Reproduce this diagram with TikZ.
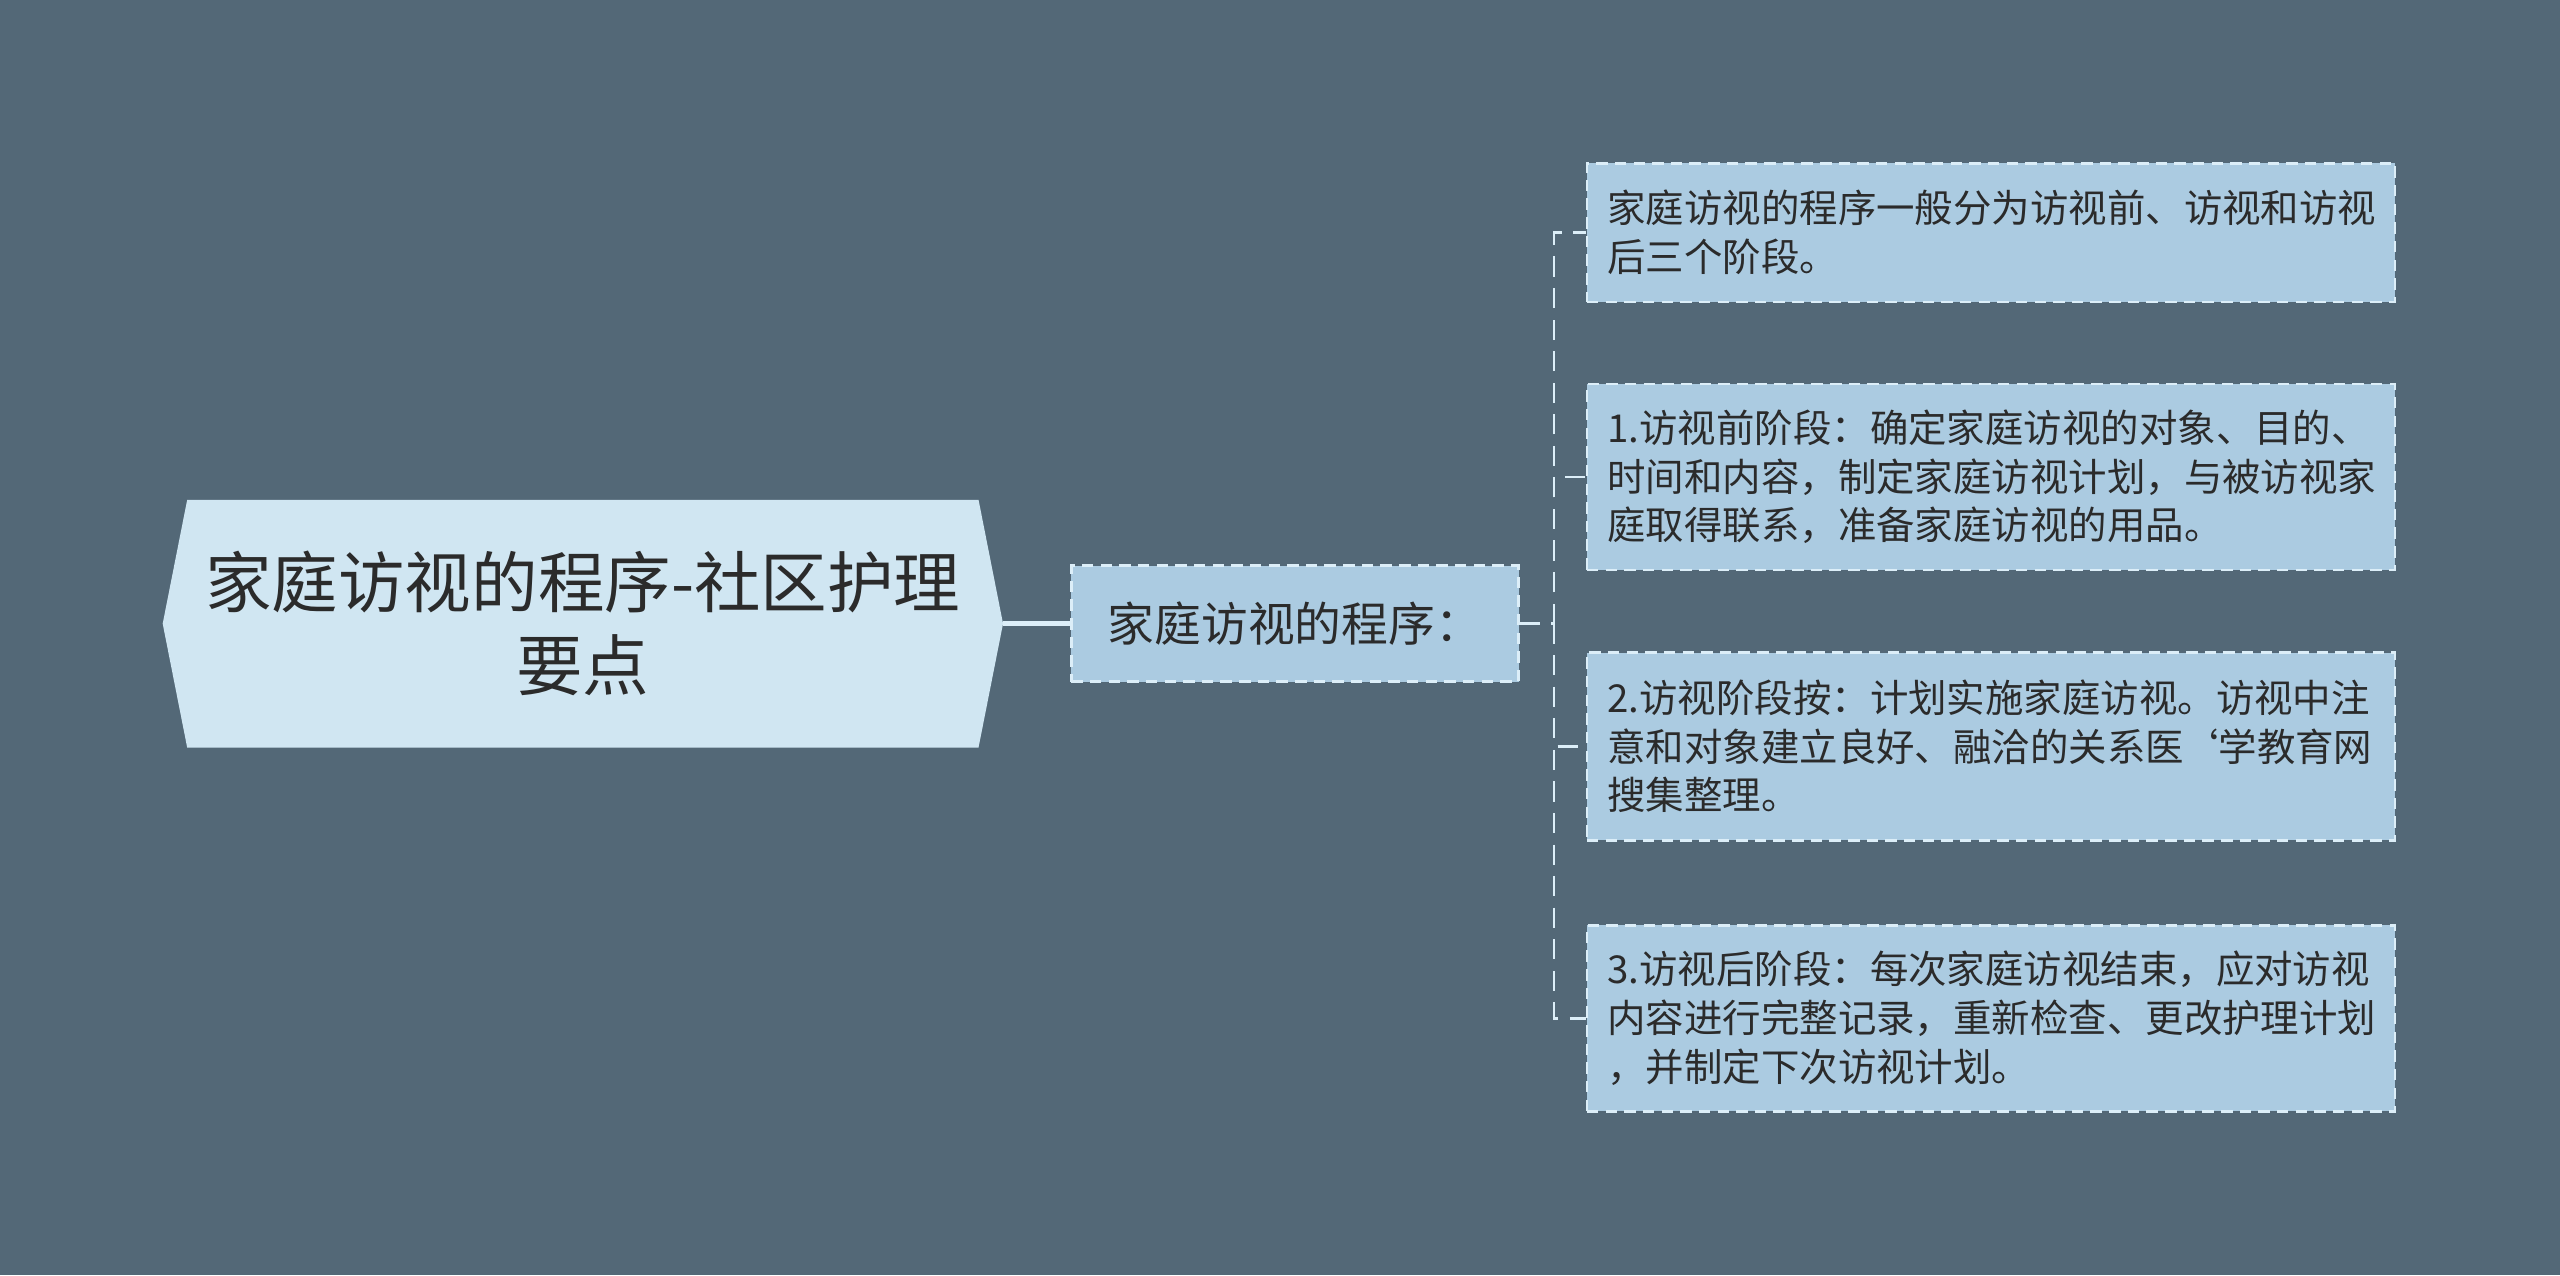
\documentclass[tikz,border=0pt]{standalone}
\usepackage{fontspec}
\setmainfont{Noto Sans CJK SC}
\usetikzlibrary{positioning,calc,backgrounds}

\definecolor{bgslate}{HTML}{536877}
\definecolor{rootfill}{HTML}{D0E6F2}
\definecolor{leaffill}{HTML}{ABCBE1}
\definecolor{edgeline}{HTML}{DCEEF8}
\definecolor{inkgray}{HTML}{2B2B2B}

\tikzstyle{rootbox} = [rectangle, minimum width=10.28cm, minimum height=3.02cm, align=center, text=inkgray, font=\fontsize{23.2pt}{29pt}\selectfont]
\tikzstyle{midbox} = [rectangle, fill=leaffill, draw=edgeline, dash pattern=on 4pt off 2.5pt, line width=0.9pt, minimum width=5.48cm, minimum height=1.42cm, text=inkgray, font=\fontsize{16.3pt}{20pt}\selectfont]
\tikzstyle{leafbox} = [rectangle, fill=leaffill, draw=edgeline, dash pattern=on 4pt off 2.5pt, line width=0.9pt, text width=9.4cm, inner xsep=0.25cm, align=left, text=inkgray, font=\fontsize{13.4pt}{17pt}\selectfont]
\tikzstyle{link} = [edgeline, line width=1.6pt]
\tikzstyle{branch} = [edgeline, line width=0.9pt, dash pattern=on 7pt off 4pt]

\begin{document}
\begin{tikzpicture}[node distance=1cm]
\useasboundingbox (0,0) rectangle (31.36,15.62);
\node (root) [rootbox] at (7.14,7.98) {家庭访视的程序-社区护理\\要点};
\node (mid) [midbox, right=0.82cm of root] {家庭访视的程序：};

\node (leafa) [leafbox, minimum height=1.7cm] at (24.39,12.77) {家庭访视的程序一般分为访视前、访视和访视\\后三个阶段。};
\node (leafb) [leafbox, minimum height=2.28cm, below=0.97cm of leafa] {1.访视前阶段：确定家庭访视的对象、目的、\\时间和内容，制定家庭访视计划，与被访视家\\庭取得联系，准备家庭访视的用品。};
\node (leafc) [leafbox, minimum height=2.3cm, below=0.98cm of leafb] {2.访视阶段按：计划实施家庭访视。访视中注\\意和对象建立良好、融洽的关系医\kern-0.1em\symbol{96}学教育网\\搜集整理。};
\node (leafd) [leafbox, minimum height=2.28cm, below=1.01cm of leafc] {3.访视后阶段：每次家庭访视结束，应对访视\\内容进行完整记录，重新检查、更改护理计划\\，并制定下次访视计划。};

\begin{scope}[on background layer]
\fill[bgslate] (0,0) rectangle (31.36,15.62);
\fill[rootfill] (root.west) -- ($(root.north west)+(0.3,0)$) -- ($(root.north east)+(-0.3,0)$) -- (root.east) -- ($(root.south east)+(-0.3,0)$) -- ($(root.south west)+(0.3,0)$) -- cycle;
\end{scope}

\draw [link] (root.east) -- (mid.west);
\draw [branch] (mid.east) -- ++(0.42,0) coordinate (fork);
\draw [branch] (fork) |- (leafa.west);
\draw [branch] (fork) |- (leafb.west);
\draw [branch] (fork) |- (leafc.west);
\draw [branch] (fork) |- (leafd.west);
\end{tikzpicture}
\end{document}
